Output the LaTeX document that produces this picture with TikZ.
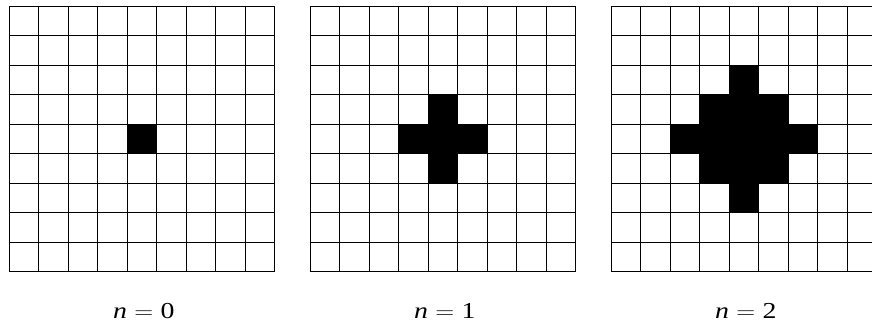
\documentclass[tikz,border=0pt]{standalone}
\usepackage{fontspec}
\setmainfont{Liberation Serif}
\begin{document}
\begin{tikzpicture}[x=1cm,y=1cm,
  gridline/.style={line width=0.8pt,black},
  cellfill/.style={fill=black},
  lbl/.style={font=\fontsize{22}{26}\selectfont, inner sep=0pt, xscale=1.22, transform shape}]
\useasboundingbox (0,0) rectangle (29.559,-10.983);
\foreach \g/\x in {0/0.305,1/10.508,2/20.712} {
  \begin{scope}[shift={(\x,-0.2136)}]
    \foreach \r in {0,...,8} {
      \foreach \c in {0,...,8} {
        \pgfmathtruncatemacro\dd{abs(\r-4)+abs(\c-4)}
        \ifnum\dd>\g\relax\else
          \fill[cellfill] (\c,-\r) rectangle ++(1,-1);
        \fi
      }
    }
    \draw[gridline] (0,0) grid (9,-9);
    \node[lbl] (label\g) at (4.57,-10.33) {\textit{n}$\;=\;$\g};
  \end{scope}
}
\end{tikzpicture}
\end{document}
